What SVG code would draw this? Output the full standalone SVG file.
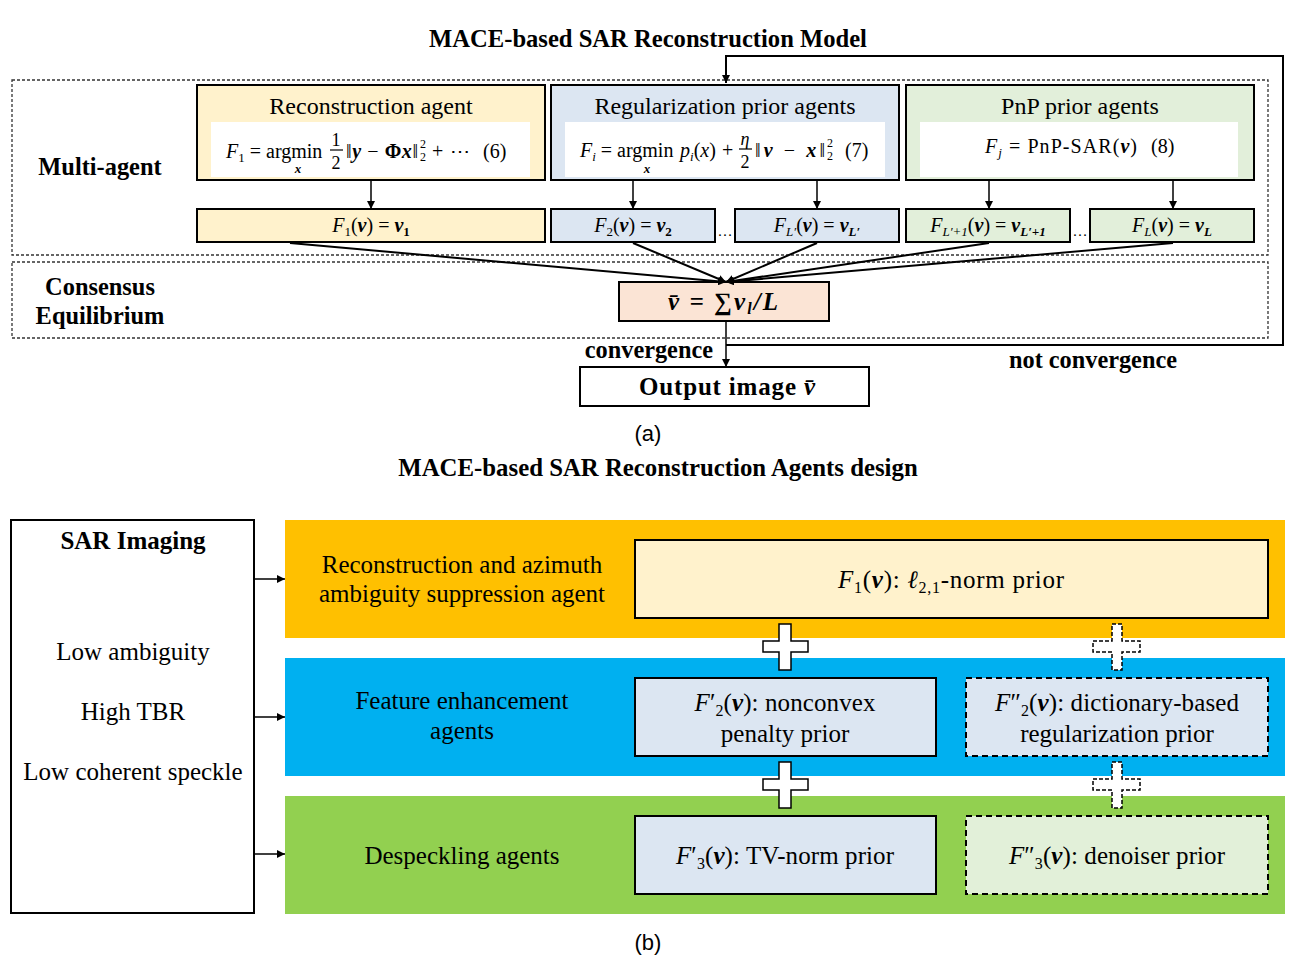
<svg xmlns="http://www.w3.org/2000/svg" width="1298" height="964" viewBox="0 0 1298 964">
<style>
text{font-family:"Liberation Serif","Times New Roman",serif;fill:#000}
.b{font-weight:bold}
.i{font-style:italic}
.bi{font-weight:bold;font-style:italic}
.t24{font-size:24px}
.t25{font-size:25px}
.m{font-size:20px}
.s{font-size:13px}
.c{text-anchor:middle}
.box{stroke:#000;stroke-width:2}
.dash{fill:none;stroke:#333;stroke-width:1.3;stroke-dasharray:3 2}
.ln{stroke:#000;stroke-width:2;fill:none}
.thin{stroke:#000;stroke-width:1.5;fill:none}
.plus{fill:#fff;stroke:#000;stroke-width:1.5}
.plusd{fill:#fff;stroke:#000;stroke-width:1.5;stroke-dasharray:4 2}
.sans{font-family:"Liberation Sans",Arial,sans-serif;font-size:22px}
</style>
<defs>
<marker id="ah" viewBox="0 0 10 10" refX="10" refY="5" markerWidth="8" markerHeight="8" markerUnits="userSpaceOnUse" orient="auto">
<path d="M0,0 L10,5 L0,10 z" fill="#000"/>
</marker>
</defs>
<rect width="1298" height="964" fill="#fff"/>

<!-- (a) -->
<text x="648" y="47" class="b c" font-size="24.6">MACE-based SAR Reconstruction Model</text>
<rect x="12" y="80" width="1256" height="175" class="dash"/>
<rect x="12" y="262" width="1256" height="76" class="dash"/>
<text x="100" y="175" class="b c" font-size="24.4">Multi-agent</text>
<text x="100" y="295" class="b c" font-size="24.4">Consensus</text>
<text x="100" y="324" class="b c" font-size="24.4">Equilibrium</text>

<g id="recon-agent">
<rect x="197" y="85" width="348" height="95" fill="#fff2cc" class="box"/>
<rect x="211" y="122" width="319" height="55" fill="#fff"/>
<text x="371" y="114" class="c t24">Reconstruction agent</text>
<text x="226" y="158" class="m"><tspan class="i">F</tspan><tspan class="s" dy="4">1</tspan><tspan dy="-4"> = argmin</tspan></text>
<text x="298" y="173" class="bi c s">x</text>
<text x="336" y="146" class="c" font-size="18">1</text>
<line x1="330" y1="150" x2="343" y2="150" stroke="#000" stroke-width="1.2"/>
<text x="336" y="169" class="c" font-size="18">2</text>
<text x="346" y="158" class="m" textLength="72" lengthAdjust="spacing">‖<tspan class="bi">y</tspan> − <tspan class="b">Φ</tspan><tspan class="bi">x</tspan>‖</text>
<text x="420" y="148" font-size="12">2</text>
<text x="420" y="161" font-size="12">2</text>
<text x="432" y="158" class="m">+</text>
<text x="450" y="158" class="m">⋯</text>
<text x="483" y="158" class="m">(6)</text>
</g>

<g id="reg-agent">
<rect x="551" y="85" width="348" height="95" fill="#dce6f2" class="box"/>
<rect x="565" y="122" width="320" height="55" fill="#fff"/>
<text x="725" y="114" class="c t24">Regularization prior agents</text>
<text x="580" y="157" class="m"><tspan class="i">F</tspan><tspan class="s i" dy="4">i</tspan><tspan dy="-4"> = argmin</tspan></text>
<text x="647" y="173" class="bi c s">x</text>
<text x="680" y="157" class="m"><tspan class="i">p</tspan><tspan class="s i" dy="4">i</tspan><tspan dy="-4">(</tspan><tspan class="i">x</tspan>)</text>
<text x="722" y="157" class="m">+</text>
<text x="745" y="145" class="c i" font-size="18">η</text>
<line x1="739" y1="149" x2="752" y2="149" stroke="#000" stroke-width="1.2"/>
<text x="745" y="168" class="c" font-size="18">2</text>
<text x="755" y="157" class="m" textLength="70" lengthAdjust="spacing">‖<tspan class="bi">v</tspan> − <tspan class="bi">x</tspan>‖</text>
<text x="827" y="147" font-size="12">2</text>
<text x="827" y="160" font-size="12">2</text>
<text x="845" y="157" class="m">(7)</text>
</g>

<g id="pnp-agent">
<rect x="906" y="85" width="348" height="95" fill="#e2efda" class="box"/>
<rect x="920" y="122" width="318" height="55" fill="#fff"/>
<text x="1080" y="114" class="c t24">PnP prior agents</text>
<text x="985" y="153" class="m" textLength="152" lengthAdjust="spacing"><tspan class="i">F</tspan><tspan class="s i" dy="4">j</tspan><tspan dy="-4"> = PnP-SAR(</tspan><tspan class="bi">v</tspan>)</text>
<text x="1151" y="153" class="m">(8)</text>
</g>

<g id="f1">
<rect x="197" y="209" width="348" height="33" fill="#fff2cc" class="box"/>
<text x="371" y="232" class="m c"><tspan class="i">F</tspan><tspan class="s" dy="4">1</tspan><tspan dy="-4">(</tspan><tspan class="bi">v</tspan>) = <tspan class="bi">v</tspan><tspan class="s b" dy="4">1</tspan></text>
</g>
<g id="f2">
<rect x="551" y="209" width="164" height="33" fill="#dce6f2" class="box"/>
<text x="633" y="232" class="m c"><tspan class="i">F</tspan><tspan class="s" dy="4">2</tspan><tspan dy="-4">(</tspan><tspan class="bi">v</tspan>) = <tspan class="bi">v</tspan><tspan class="s b" dy="4">2</tspan></text>
</g>
<text x="725" y="236" class="c" font-size="15">…</text>
<g id="fl1">
<rect x="735" y="209" width="164" height="33" fill="#dce6f2" class="box"/>
<text x="817" y="232" class="m c"><tspan class="i">F</tspan><tspan class="s i" dy="4">L′</tspan><tspan dy="-4">(</tspan><tspan class="bi">v</tspan>) = <tspan class="bi">v</tspan><tspan class="s bi" dy="4">L′</tspan></text>
</g>
<g id="fl2">
<rect x="906" y="209" width="164" height="33" fill="#e2efda" class="box"/>
<text x="988" y="232" class="m c"><tspan class="i">F</tspan><tspan class="s i" dy="4">L′+1</tspan><tspan dy="-4">(</tspan><tspan class="bi">v</tspan>) = <tspan class="bi">v</tspan><tspan class="s bi" dy="4">L′+1</tspan></text>
</g>
<text x="1080" y="236" class="c" font-size="15">…</text>
<g id="fl">
<rect x="1090" y="209" width="164" height="33" fill="#e2efda" class="box"/>
<text x="1172" y="232" class="m c"><tspan class="i">F</tspan><tspan class="s i" dy="4">L</tspan><tspan dy="-4">(</tspan><tspan class="bi">v</tspan>) = <tspan class="bi">v</tspan><tspan class="s bi" dy="4">L</tspan></text>
</g>

<g id="consensus">
<rect x="619" y="282" width="210" height="39" fill="#fbe4d5" class="box"/>
<text x="723" y="310" class="bi c" font-size="25" textLength="110" lengthAdjust="spacing">v̄ = ∑v<tspan font-size="16" dy="4">l</tspan><tspan dy="-4">/L</tspan></text>
</g>

<g id="output">
<rect x="580" y="367" width="289" height="39" fill="#fff" class="box"/>
<text x="727" y="395" class="b c" font-size="25" textLength="176" lengthAdjust="spacing">Output image <tspan class="bi">v̄</tspan></text>
</g>
<text x="713" y="358" class="b" font-size="24.3" text-anchor="end">convergence</text>
<text x="1093" y="368" class="b c" font-size="24.3">not convergence</text>

<g id="connectors-a">
<line x1="371" y1="180" x2="371" y2="209" class="thin" marker-end="url(#ah)"/>
<line x1="633" y1="180" x2="633" y2="209" class="thin" marker-end="url(#ah)"/>
<line x1="817" y1="180" x2="817" y2="209" class="thin" marker-end="url(#ah)"/>
<line x1="989" y1="180" x2="989" y2="209" class="thin" marker-end="url(#ah)"/>
<line x1="1173" y1="180" x2="1173" y2="209" class="thin" marker-end="url(#ah)"/>
<line x1="290" y1="243" x2="726" y2="282" class="ln" marker-end="url(#ah)"/>
<line x1="633" y1="243" x2="726" y2="282" class="ln" marker-end="url(#ah)"/>
<line x1="817" y1="243" x2="726" y2="282" class="ln" marker-end="url(#ah)"/>
<line x1="989" y1="243" x2="726" y2="282" class="ln" marker-end="url(#ah)"/>
<line x1="1173" y1="243" x2="726" y2="282" class="ln" marker-end="url(#ah)"/>
<line x1="726" y1="321" x2="726" y2="367" class="thin" marker-end="url(#ah)"/>
<path d="M726,345 L1283,345 L1283,56 L726,56 L726,83" class="ln" marker-end="url(#ah)"/>
</g>
<text x="648" y="441" class="sans" text-anchor="middle">(a)</text>

<!-- (b) -->
<text x="658" y="476" class="b c" font-size="24.8">MACE-based SAR Reconstruction Agents design</text>

<g id="sar-imaging">
<rect x="11" y="520" width="243" height="393" fill="#fff" class="box"/>
<text x="133" y="549" class="b c t25">SAR Imaging</text>
<text x="133" y="660" class="c t25">Low ambiguity</text>
<text x="133" y="720" class="c t25">High TBR</text>
<text x="133" y="780" class="c t25">Low coherent speckle</text>
</g>

<g id="band-recon">
<rect x="285" y="520" width="1000" height="118" fill="#ffc000"/>
<text x="462" y="573" class="c t25">Reconstruction and azimuth</text>
<text x="462" y="602" class="c t25">ambiguity suppression agent</text>
</g>
<g id="band-feature">
<rect x="285" y="658" width="1000" height="118" fill="#00b0f0"/>
<text x="462" y="709" class="c t25">Feature enhancement</text>
<text x="462" y="739" class="c t25">agents</text>
</g>
<g id="band-despeckle">
<rect x="285" y="796" width="1000" height="118" fill="#92d050"/>
<text x="462" y="864" class="c t25">Despeckling agents</text>
</g>

<g id="f1-l21">
<rect x="635" y="540" width="633" height="78" fill="#fff2cc" class="box"/>
<text x="951" y="588" class="c t25" textLength="226" lengthAdjust="spacing"><tspan class="i">F</tspan><tspan font-size="16" dy="5">1</tspan><tspan dy="-5">(</tspan><tspan class="bi">v</tspan>): <tspan class="i">ℓ</tspan><tspan font-size="16" dy="5">2,1</tspan><tspan dy="-5">-norm prior</tspan></text>
</g>
<g id="f2p">
<rect x="635" y="678" width="301" height="78" fill="#dce6f2" class="box"/>
<text x="785" y="711" class="c t25" textLength="181" lengthAdjust="spacing"><tspan class="i">F</tspan><tspan>′</tspan><tspan font-size="16" dy="5">2</tspan><tspan dy="-5">(</tspan><tspan class="bi">v</tspan>): nonconvex</text>
<text x="785" y="742" class="c t25">penalty prior</text>
</g>
<g id="f2pp">
<rect x="966" y="678" width="302" height="78" fill="#dce6f2" stroke="#000" stroke-width="2" stroke-dasharray="6 4"/>
<text x="1117" y="711" class="c t25" textLength="244" lengthAdjust="spacing"><tspan class="i">F</tspan><tspan>″</tspan><tspan font-size="16" dy="5">2</tspan><tspan dy="-5">(</tspan><tspan class="bi">v</tspan>): dictionary-based</text>
<text x="1117" y="742" class="c t25">regularization prior</text>
</g>
<g id="f3p">
<rect x="635" y="816" width="301" height="78" fill="#dce6f2" class="box"/>
<text x="785" y="864" class="c t25" textLength="218" lengthAdjust="spacing"><tspan class="i">F</tspan><tspan>′</tspan><tspan font-size="16" dy="5">3</tspan><tspan dy="-5">(</tspan><tspan class="bi">v</tspan>): TV-norm prior</text>
</g>
<g id="f3pp">
<rect x="966" y="816" width="302" height="78" fill="#e2f0d9" stroke="#000" stroke-width="2" stroke-dasharray="6 4"/>
<text x="1117" y="864" class="c t25" textLength="216" lengthAdjust="spacing"><tspan class="i">F</tspan><tspan>″</tspan><tspan font-size="16" dy="5">3</tspan><tspan dy="-5">(</tspan><tspan class="bi">v</tspan>): denoiser prior</text>
</g>

<g id="plus-signs">
<path d="M779,624 h12 v17 h17 v11 h-17 v18 h-12 v-18 h-16 v-11 h16 z" class="plus"/>
<path d="M779,762 h12 v17 h17 v11 h-17 v18 h-12 v-18 h-16 v-11 h16 z" class="plus"/>
<path d="M1112,624 h10 v17 h18 v11 h-18 v18 h-10 v-18 h-19 v-11 h19 z" class="plusd"/>
<path d="M1112,762 h10 v17 h18 v11 h-18 v18 h-10 v-18 h-19 v-11 h19 z" class="plusd"/>
</g>

<g id="connectors-b">
<line x1="254" y1="579" x2="285" y2="579" class="thin" marker-end="url(#ah)"/>
<line x1="254" y1="717" x2="285" y2="717" class="thin" marker-end="url(#ah)"/>
<line x1="254" y1="854" x2="285" y2="854" class="thin" marker-end="url(#ah)"/>
</g>
<text x="648" y="950" class="sans" text-anchor="middle">(b)</text>
</svg>
